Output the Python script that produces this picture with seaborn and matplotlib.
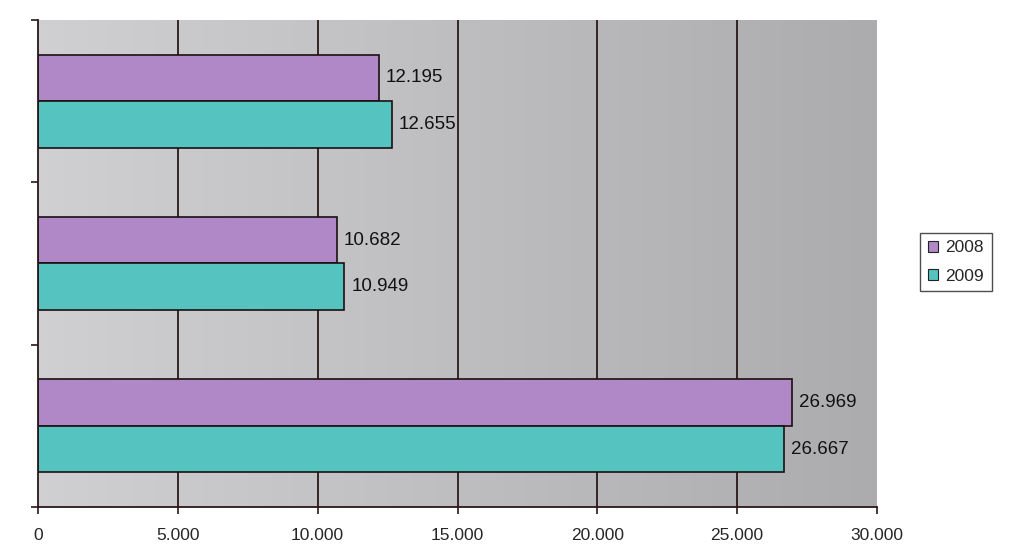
import numpy as np
import pandas as pd
import matplotlib
matplotlib.use("Agg")
import matplotlib.pyplot as plt
import seaborn as sns
from matplotlib.colors import LinearSegmentedColormap

categories = ["Cat1", "Cat2", "Cat3"]
years = ["2008", "2009"]
values_2008 = [12195, 10682, 26969]
values_2009 = [12655, 10949, 26667]
xticks = [0, 5000, 10000, 15000, 20000, 25000, 30000]
xtick_labels = ["0", "5.000", "10.000", "15.000", "20.000", "25.000", "30.000"]
colors = ["#b088c8", "#55c4c0"]

df = pd.DataFrame({
    "category": categories * 2,
    "year": [years[0]] * 3 + [years[1]] * 3,
    "value": values_2008 + values_2009,
})

sns.set_style("white")
plt.rcParams["font.family"] = ["Liberation Sans", "DejaVu Sans"]

fig = plt.figure(figsize=(10.24, 5.59), dpi=100)
ax = fig.add_axes([38 / 1024, 1 - 507 / 559, (877 - 38) / 1024, (507 - 20) / 559])

# gradient background
cmap = LinearSegmentedColormap.from_list("bg", ["#d0d0d2", "#acacae"])
grad = np.linspace(0, 1, 256).reshape(1, -1)
ax.imshow(grad, cmap=cmap, aspect="auto", extent=[0, 30000, 2.5, -0.5], zorder=0)

sns.barplot(data=df, y="category", x="value", hue="year", orient="h",
            palette=colors, saturation=1, width=0.573, edgecolor="#1a1010", linewidth=1.2,
            ax=ax, zorder=3, legend=True)

ax.set_xlim(0, 30000)
ax.set_ylim(2.5, -0.5)

for x in xticks[1:-1]:
    ax.axvline(x, color="#2a1818", lw=1.3, zorder=1)

ax.set_xticks(xticks)
ax.set_xticklabels(xtick_labels, fontsize=12.5)
ax.set_yticks([-0.5, 0.5, 1.5, 2.5])
ax.set_yticklabels([])
ax.set_xlabel("")
ax.set_ylabel("")
ax.tick_params(axis="both", direction="out", length=5, width=1.2, color="#2a1818", bottom=True, left=True)
ax.tick_params(axis="x", pad=10)

for side in ["top", "right"]:
    ax.spines[side].set_visible(False)
for side in ["left", "bottom"]:
    ax.spines[side].set_color("#2a1818")
    ax.spines[side].set_linewidth(1.3)
    ax.spines[side].set_zorder(4)

for cont in ax.containers:
    labels = [f"{int(v):,}".replace(",", ".") for v in cont.datavalues]
    ax.bar_label(cont, labels=labels, padding=5, fontsize=13.5, color="#111111")

leg = ax.legend(loc="center", bbox_to_anchor=(956 / 1024, 1 - 262 / 559),
                bbox_transform=fig.transFigure, frameon=True, fontsize=12.5,
                fancybox=False, edgecolor="#222222", handlelength=0.6, handleheight=0.6,
                handletextpad=0.4, borderpad=0.45, labelspacing=0.75)
leg.get_frame().set_linewidth(1.0)
for h in leg.legend_handles:
    h.set_edgecolor("#222222")
    h.set_linewidth(0.8)

fig.savefig("out.png", dpi=100)
